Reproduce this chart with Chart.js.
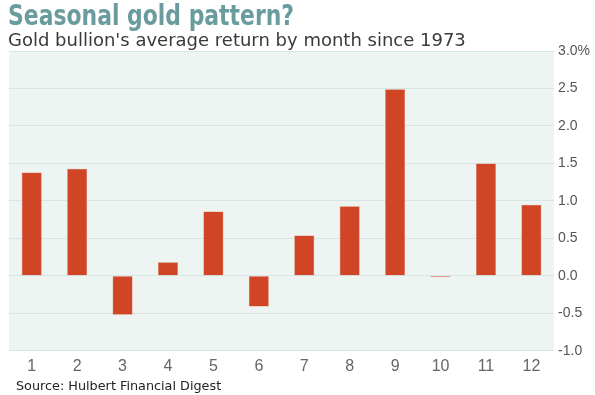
<!DOCTYPE html>
<html>
<head>
<meta charset="utf-8">
<script src="https://cdn.jsdelivr.net/npm/chart.js@4/dist/chart.umd.min.js"></script>
<style>
    html, body { margin: 0; padding: 0; background: #fff; }
    #wrap { position: relative; width: 595px; height: 395px; overflow: hidden; }
    #chart { position: absolute; left: 0; top: 0; }
    .title { position: absolute; left: 8px; top: -2px; font-family: 'DejaVu Sans Condensed', sans-serif; font-weight: bold; font-size: 29px; color: #6a9c9d; white-space: nowrap; transform: scaleX(0.84); transform-origin: 0 0; }
    .subtitle { position: absolute; left: 8px; top: 29px; font-family: 'DejaVu Sans', sans-serif; font-size: 18px; color: #3a3a3a; white-space: nowrap; }
    .source { position: absolute; left: 16px; top: 378px; font-family: 'DejaVu Sans', sans-serif; font-size: 12.8px; color: #222; white-space: nowrap; }
</style>
</head>
<body>
<div id="wrap">
    <canvas id="chart" width="595" height="395"></canvas>
    <div class="title">Seasonal gold pattern?</div>
    <div class="subtitle">Gold bullion's average return by month since 1973</div>
    <div class="source">Source: Hulbert Financial Digest</div>
</div>
<script>
// months and average returns (%)
const months = ['1', '2', '3', '4', '5', '6', '7', '8', '9', '10', '11', '12'];
const avgReturns = [1.38, 1.43, -0.52, 0.18, 0.86, -0.41, 0.54, 0.93, 2.49, -0.02, 1.50, 0.95];
const yTickValues = [-1, -0.5, 0, 0.5, 1, 1.5, 2, 2.5, 3];
const yTickLabels = ['-1.0', '-0.5', '0.0', '0.5', '1.0', '1.5', '2.0', '2.5', '3.0%'];

// fill the plot area behind the grid
const plotBackground = {
    id: 'plotBackground',
    beforeDraw: function(chart) {
        const a = chart.chartArea;
        const ctx = chart.ctx;
        ctx.save();
        ctx.fillStyle = '#eef4f1';
        ctx.fillRect(a.left, a.top, a.right - a.left, a.bottom - a.top);
        ctx.restore();
    }
};

document.addEventListener('DOMContentLoaded', function() {
    const ctx = document.getElementById('chart').getContext('2d');

    new Chart(ctx, {
        type: 'bar',
        data: {
            labels: months,
            datasets: [{
                data: avgReturns,
                backgroundColor: '#d04526',
                borderColor: '#e0775c',
                borderWidth: 0.5,
                barPercentage: 0.44,
                categoryPercentage: 1
            }]
        },
        options: {
            responsive: false,
            animation: false,
            layout: {
                padding: { top: 51, left: 9, right: 1, bottom: 13 }
            },
            plugins: {
                legend: { display: false },
                tooltip: { enabled: false }
            },
            scales: {
                x: {
                    grid: { display: false, drawTicks: false },
                    border: { display: false },
                    ticks: {
                        color: '#666',
                        padding: 6,
                        font: { family: 'Liberation Sans', size: 16 }
                    }
                },
                y: {
                    position: 'right',
                    min: -1,
                    max: 3,
                    afterBuildTicks: function(axis) {
                        axis.ticks = yTickValues.map(function(v) { return { value: v }; });
                    },
                    grid: { color: '#d6e5e6', lineWidth: 1, drawTicks: false },
                    border: { display: false },
                    ticks: {
                        color: '#555',
                        padding: 4,
                        font: { family: 'Liberation Sans', size: 14 },
                        callback: function(value) {
                            return yTickLabels[yTickValues.indexOf(value)];
                        }
                    }
                }
            }
        },
        plugins: [plotBackground]
    });
});
</script>
</body>
</html>
